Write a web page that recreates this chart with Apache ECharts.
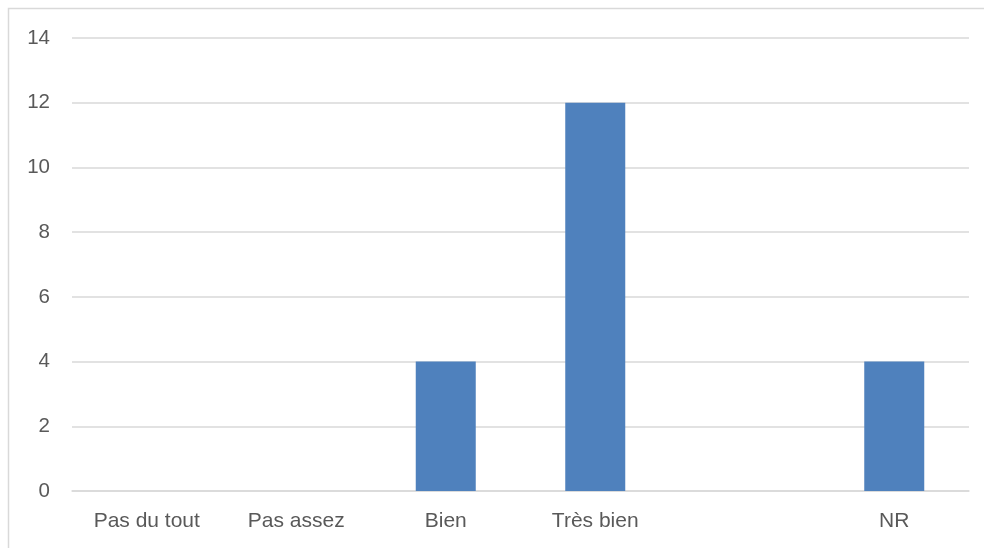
<!DOCTYPE html>
<html>
<head>
<meta charset="utf-8">
<script src="https://cdn.jsdelivr.net/npm/echarts@6/dist/echarts.min.js"></script>
<style>
  html, body { margin: 0; padding: 0; background: #fff; }
  #main { width: 984px; height: 548px; }
</style>
</head>
<body>
<div id="main"></div>
<script>
// catégories (la 5e est vide dans l'original)
var categories = ['Pas du tout', 'Pas assez', 'Bien', 'Très bien', '', 'NR']
var values = [0, 0, 4, 12, 0, 4]
var yTicks = { min: 0, max: 14, interval: 2 }

var chart = echarts.init(document.getElementById('main'))
var option = {
  backgroundColor: '#fff',
  animation: false,
  textStyle: { fontFamily: 'Liberation Sans, Arial, sans-serif' },
  graphic: [{
    type: 'rect',
    shape: { x: 8.5, y: 8.5, width: 1000, height: 600 },
    style: { fill: 'none', stroke: '#d9d9d9', lineWidth: 1.5 },
    silent: true
  }],
  grid: { left: 72, right: 15, top: 38, bottom: 57, containLabel: false },
  xAxis: {
    type: 'category',
    data: categories,
    axisLine: { lineStyle: { color: '#d9d9d9', width: 1.5 } },
    axisTick: { show: false },
    axisLabel: { color: '#595959', fontSize: 21, margin: 20 }
  },
  yAxis: {
    type: 'value',
    min: yTicks.min,
    max: yTicks.max,
    interval: yTicks.interval,
    axisLine: { show: false },
    axisTick: { show: false },
    axisLabel: { color: '#595959', fontSize: 20.5, margin: 22 },
    splitLine: { lineStyle: { color: '#d9d9d9', width: 1.5 } }
  },
  series: [{
    type: 'bar',
    data: values,
    barWidth: 60,
    itemStyle: { color: '#4f81bd' }
  }]
}
chart.setOption(option)
window.onresize = chart.resize
</script>
</body>
</html>
